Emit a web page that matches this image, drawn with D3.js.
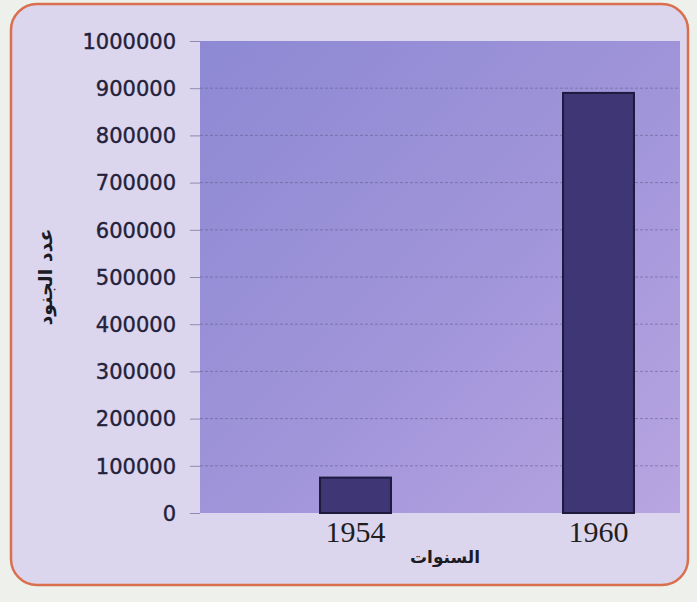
<!DOCTYPE html>
<html>
<head>
<meta charset="utf-8">
<script src="https://cdn.jsdelivr.net/npm/d3@7"></script>
<style>
  html, body { margin: 0; padding: 0; background: #eef0ec; }
  svg { display: block; }
</style>
</head>
<body>
<div id="chart"></div>
<script>
const width = 697
const height = 602

// data
const years = ["1954", "1960"]
const soldiers = [75000, 890000]
const yTicks = [0, 100000, 200000, 300000, 400000, 500000, 600000, 700000, 800000, 900000, 1000000]

const yTitle = "عدد الجنود"
const xTitle = "السنوات"

const bars = years.map((y, i) => ({ year: y, value: soldiers[i] }))

const svg = d3.select("#chart").append("svg")
    .attr("width", width)
    .attr("height", height)

const defs = svg.append("defs")
const grad = defs.append("linearGradient")
    .attr("id", "plotbg")
    .attr("x1", "0%").attr("y1", "0%")
    .attr("x2", "100%").attr("y2", "100%")
grad.append("stop").attr("offset", "0%").attr("stop-color", "#8d89d3")
grad.append("stop").attr("offset", "55%").attr("stop-color", "#a195da")
grad.append("stop").attr("offset", "100%").attr("stop-color", "#b8a5e1")

// card behind the chart
svg.append("rect")
    .attr("x", 11).attr("y", 4)
    .attr("width", 677).attr("height", 581)
    .attr("rx", 26)
    .attr("fill", "#dcd5ee")
    .attr("stroke", "#d96f4c")
    .attr("stroke-width", 2.5)

const plot = { left: 200, right: 680, top: 41, bottom: 513 }

const y = d3.scaleLinear()
    .domain([0, 1000000])
    .range([plot.bottom, plot.top])

const x = d3.scaleBand()
    .domain(years)
    .range([234, 720])
    .paddingInner(0.708)
    .paddingOuter(0.354)

svg.append("rect")
    .attr("x", plot.left).attr("y", plot.top)
    .attr("width", plot.right - plot.left)
    .attr("height", plot.bottom - plot.top)
    .attr("fill", "url(#plotbg)")

// gridlines
svg.append("g")
    .selectAll("line")
    .data(yTicks.filter(d => d > 0 && d < 1000000))
    .join("line")
    .attr("x1", plot.left).attr("x2", plot.right)
    .attr("y1", d => y(d)).attr("y2", d => y(d))
    .attr("stroke", "#5a5688")
    .attr("stroke-opacity", 0.5)
    .attr("stroke-dasharray", "3,2")
    .attr("stroke-width", 1)

// y axis
const yAxis = svg.append("g")
    .attr("transform", `translate(${plot.left},0)`)
    .call(d3.axisLeft(y).tickValues(yTicks).tickFormat(d3.format("d")).tickSize(10).tickPadding(14))
yAxis.select(".domain").remove()
yAxis.selectAll(".tick line")
    .attr("stroke", "#6f6a95")
    .attr("stroke-opacity", 0.7)
yAxis.selectAll(".tick text")
    .attr("fill", "#23223a")
    .attr("stroke", "#23223a")
    .attr("stroke-width", 0.4)
    .attr("font-family", "DejaVu Sans, sans-serif")
    .attr("font-size", 21)
    .attr("dy", "0.35em")

// bars
svg.append("g")
    .selectAll("rect")
    .data(bars)
    .join("rect")
    .attr("x", d => x(d.year))
    .attr("width", x.bandwidth())
    .attr("y", d => y(d.value))
    .attr("height", d => y(0) - y(d.value))
    .attr("fill", "#3e3675")
    .attr("stroke", "#1d1a3e")
    .attr("stroke-width", 2)

// x labels
const xAxis = svg.append("g")
    .attr("transform", `translate(0,${plot.bottom})`)
    .call(d3.axisBottom(x).tickSize(0).tickPadding(8))
xAxis.select(".domain").remove()
xAxis.selectAll(".tick text")
    .attr("fill", "#1e1e1e")
    .attr("font-family", "Liberation Serif, Times New Roman, serif")
    .attr("font-size", 30)
    .attr("dy", "0.71em")

// axis titles
svg.append("text")
    .attr("x", 445).attr("y", 563)
    .attr("text-anchor", "middle")
    .attr("font-family", "DejaVu Sans, sans-serif")
    .attr("font-weight", "bold")
    .attr("font-size", 17)
    .attr("fill", "#1b1b24")
    .attr("direction", "rtl")
    .text(xTitle)

svg.append("text")
    .attr("transform", "translate(52,277) rotate(-90)")
    .attr("text-anchor", "middle")
    .attr("font-family", "DejaVu Sans, sans-serif")
    .attr("font-weight", "bold")
    .attr("font-size", 19)
    .attr("fill", "#1b1b24")
    .attr("direction", "rtl")
    .text(yTitle)
</script>
</body>
</html>
